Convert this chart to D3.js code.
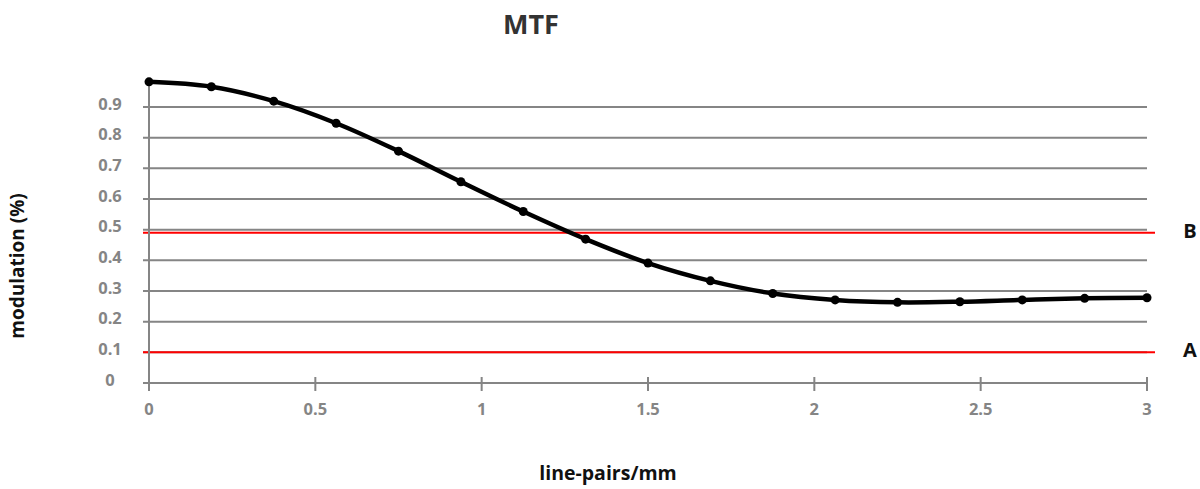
<!DOCTYPE html>
<html><head><meta charset="utf-8">
<script src="https://cdn.jsdelivr.net/npm/d3@7"></script>
<style>body{margin:0;background:#fff}svg{display:block;font-family:"Open Sans",sans-serif}</style>
</head><body>
<script>
const xValues = [0,0.1875,0.375,0.5625,0.75,0.9375,1.125,1.3125,1.5,1.6875,1.875,2.0625,2.25,2.4375,2.625,2.8125,3];
const mtfValues = [0.982,0.966,0.919,0.847,0.756,0.656,0.559,0.469,0.391,0.333,0.292,0.271,0.263,0.265,0.271,0.276,0.278];
const yTicks = [0,0.1,0.2,0.3,0.4,0.5,0.6,0.7,0.8,0.9];
const xTicks = [0,0.5,1,1.5,2,2.5,3];
const limitNames = ["A","B"];
const limitValues = [0.1,0.49];

const W=1200,H=489;
const svg=d3.select("body").append("svg").attr("width",W).attr("height",H);
const x=d3.scaleLinear().domain([0,3]).range([149,1147]);
const y=d3.scaleLinear().domain([0,1]).range([383,76.3]);
const grey="#858585";

// grid
svg.append("g").selectAll("line").data(yTicks.filter(d=>d>0)).join("line")
 .attr("x1",143).attr("x2",x(3)).attr("y1",d=>y(d)).attr("y2",d=>y(d))
 .attr("stroke",grey).attr("stroke-width",2);
// limit lines
svg.append("g").selectAll("line").data(limitValues).join("line")
 .attr("x1",143).attr("x2",1155).attr("y1",d=>y(d)).attr("y2",d=>y(d))
 .attr("stroke","#ff0000").attr("stroke-width",2);
svg.append("g").selectAll("text").data(limitValues).join("text")
 .attr("x",1190).attr("y",d=>y(d)-2).attr("dy","0.35em").attr("text-anchor","middle")
 .attr("font-weight","bold").attr("font-size",20).attr("fill","#111")
 .text((d,i)=>limitNames[i]);

// x axis
svg.append("line").attr("x1",143).attr("x2",x(3)).attr("y1",y(0)).attr("y2",y(0)).attr("stroke",grey).attr("stroke-width",2);
svg.append("g").selectAll("line").data(xTicks).join("line")
 .attr("x1",d=>x(d)).attr("x2",d=>x(d)).attr("y1",y(0)-6).attr("y2",y(0)+8)
 .attr("stroke",grey).attr("stroke-width",2);
svg.append("g").selectAll("text").data(xTicks).join("text")
 .attr("x",d=>x(d)).attr("y",y(0)+26).attr("dy","0.35em").attr("text-anchor","middle")
 .attr("font-weight","bold").attr("font-size",16.5).attr("fill",grey).text(d=>d);
// y axis
svg.append("line").attr("x1",x(0)).attr("x2",x(0)).attr("y1",y(0.98)).attr("y2",y(0)+8).attr("stroke",grey).attr("stroke-width",2);
svg.append("g").selectAll("text").data(yTicks).join("text")
 .attr("x",110).attr("y",d=>y(d)-3).attr("dy","0.35em").attr("text-anchor","middle")
 .attr("font-weight","bold").attr("font-size",16.5).attr("fill",grey).text(d=>d);

// curve
const pts=xValues.map((v,i)=>[v,mtfValues[i]]);
svg.append("path").datum(pts)
 .attr("d",d3.line().x(d=>x(d[0])).y(d=>y(d[1])).curve(d3.curveCatmullRom))
 .attr("fill","none").attr("stroke","#000").attr("stroke-width",4.5);
svg.append("g").selectAll("circle").data(pts).join("circle")
 .attr("cx",d=>x(d[0])).attr("cy",d=>y(d[1])).attr("r",4.5).attr("fill","#000");

// titles
svg.append("text").attr("x",531).attr("y",25).attr("dy","0.35em").attr("text-anchor","middle")
 .attr("font-weight","bold").attr("font-size",27).attr("fill","#333").text("MTF");
svg.append("text").attr("x",608).attr("y",473).attr("dy","0.35em").attr("text-anchor","middle")
 .attr("font-weight","bold").attr("font-size",19.5).attr("fill","#111").text("line-pairs/mm");
svg.append("text").attr("transform","translate(17,266) rotate(-90)").attr("dy","0.35em").attr("text-anchor","middle")
 .attr("font-weight","bold").attr("font-size",19).attr("fill","#111").text("modulation (%)");
</script>
</body></html>
